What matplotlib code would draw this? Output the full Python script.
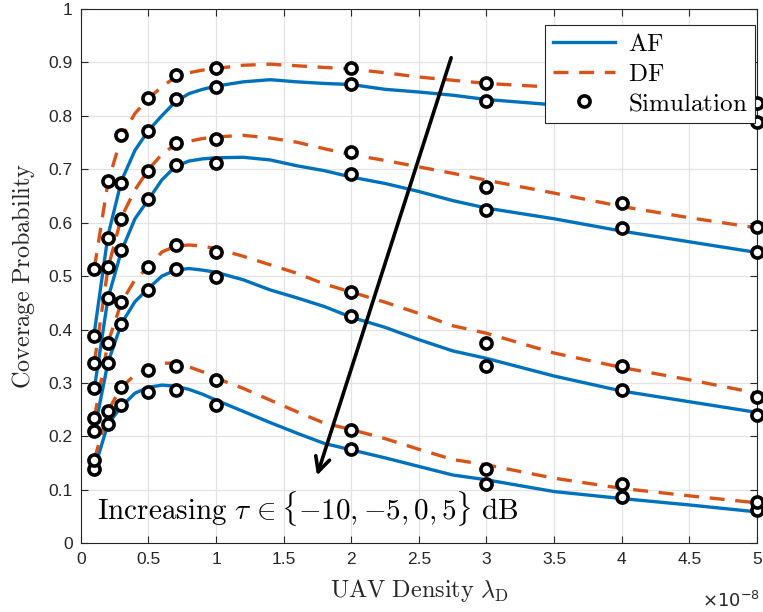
import matplotlib
matplotlib.use("Agg")
import matplotlib.pyplot as plt

plt.rcParams["mathtext.fontset"] = "cm"
plt.rcParams["font.family"] = ["Liberation Sans", "DejaVu Sans"]

BLUE = "#0072BD"
ORANGE = "#D95319"

# analytical curves (UAV density in units of 1e-8)
x_ana = [0.1, 0.2, 0.3, 0.4, 0.5, 0.6, 0.7, 0.8, 0.9, 1.0, 1.2, 1.4, 1.6, 1.8,
         2.0, 2.25, 2.5, 2.75, 3.0, 3.5, 4.0, 4.5, 5.0]
af_m10 = [0.395, 0.575, 0.678, 0.735, 0.772, 0.800, 0.826, 0.841, 0.849, 0.855, 0.863, 0.867,
          0.863, 0.860, 0.858, 0.849, 0.844, 0.838, 0.830, 0.820, 0.810, 0.799, 0.787]
df_m10 = [0.515, 0.675, 0.760, 0.804, 0.832, 0.854, 0.872, 0.880, 0.885, 0.888, 0.894, 0.896,
          0.893, 0.890, 0.887, 0.880, 0.872, 0.866, 0.860, 0.853, 0.843, 0.833, 0.822]
af_m5 = [0.290, 0.458, 0.547, 0.607, 0.643, 0.680, 0.705, 0.715, 0.719, 0.721, 0.722, 0.717,
         0.706, 0.697, 0.685, 0.673, 0.658, 0.641, 0.627, 0.607, 0.584, 0.564, 0.544]
df_m5 = [0.338, 0.514, 0.610, 0.661, 0.699, 0.728, 0.746, 0.752, 0.757, 0.760, 0.763, 0.758,
         0.750, 0.738, 0.727, 0.716, 0.704, 0.692, 0.679, 0.655, 0.630, 0.609, 0.590]
af_0 = [0.211, 0.338, 0.411, 0.452, 0.477, 0.500, 0.511, 0.514, 0.511, 0.507, 0.493, 0.474,
        0.459, 0.443, 0.423, 0.404, 0.381, 0.360, 0.346, 0.313, 0.285, 0.265, 0.245]
df_0 = [0.235, 0.375, 0.451, 0.493, 0.517, 0.545, 0.556, 0.558, 0.556, 0.551, 0.537, 0.521,
        0.505, 0.485, 0.470, 0.451, 0.430, 0.407, 0.393, 0.356, 0.329, 0.306, 0.281]
af_5 = [0.140, 0.223, 0.256, 0.281, 0.292, 0.296, 0.294, 0.288, 0.279, 0.268, 0.247, 0.226,
        0.206, 0.187, 0.175, 0.160, 0.144, 0.128, 0.119, 0.097, 0.084, 0.072, 0.059]
df_5 = [0.157, 0.248, 0.292, 0.315, 0.327, 0.337, 0.337, 0.330, 0.321, 0.309, 0.290, 0.268,
        0.246, 0.225, 0.213, 0.196, 0.176, 0.157, 0.147, 0.122, 0.103, 0.089, 0.076]

# simulation points
x_sim = [0.1, 0.2, 0.3, 0.5, 0.7, 1, 2, 3, 4, 5]
sim_df_m10 = [0.514, 0.678, 0.764, 0.833, 0.876, 0.889, 0.888, 0.860, 0.842, 0.824]
sim_af_m10 = [0.388, 0.572, 0.673, 0.772, 0.830, 0.853, 0.859, 0.828, 0.810, 0.788]
sim_df_m5 = [0.338, 0.516, 0.606, 0.697, 0.749, 0.757, 0.732, 0.667, 0.637, 0.592]
sim_af_m5 = [0.291, 0.458, 0.548, 0.644, 0.707, 0.712, 0.691, 0.623, 0.590, 0.544]
sim_df_0 = [0.235, 0.375, 0.451, 0.516, 0.558, 0.545, 0.471, 0.374, 0.331, 0.274]
sim_af_0 = [0.211, 0.338, 0.411, 0.473, 0.514, 0.498, 0.426, 0.331, 0.287, 0.240]
sim_df_5 = [0.156, 0.248, 0.293, 0.325, 0.331, 0.305, 0.213, 0.139, 0.111, 0.078]
sim_af_5 = [0.139, 0.223, 0.259, 0.283, 0.287, 0.259, 0.176, 0.111, 0.087, 0.063]

x_ticks = [0, 0.5, 1, 1.5, 2, 2.5, 3, 3.5, 4, 4.5, 5]
x_tick_labels = ["0", "0.5", "1", "1.5", "2", "2.5", "3", "3.5", "4", "4.5", "5"]
y_ticks = [0, 0.1, 0.2, 0.3, 0.4, 0.5, 0.6, 0.7, 0.8, 0.9, 1]
y_tick_labels = ["0", "0.1", "0.2", "0.3", "0.4", "0.5", "0.6", "0.7", "0.8", "0.9", "1"]

fig = plt.figure(figsize=(7.63, 6.12), dpi=100)
ax = fig.add_axes([0.106, 0.112, 0.886, 0.874])

af_curves = [af_m10, af_m5, af_0, af_5]
df_curves = [df_m10, df_m5, df_0, df_5]
sims = [sim_af_m10, sim_df_m10, sim_af_m5, sim_df_m5, sim_af_0, sim_df_0, sim_af_5, sim_df_5]

for i, (a, d) in enumerate(zip(af_curves, df_curves)):
    ax.plot(x_ana, a, color=BLUE, lw=2.4, label=r"$\mathrm{AF}$" if i == 0 else None, zorder=3)
    ax.plot(x_ana, d, color=ORANGE, lw=2.4, ls=(0, (4.5, 3.2)),
            label=r"$\mathrm{DF}$" if i == 0 else None, zorder=3)
for i, s in enumerate(sims):
    ax.plot(x_sim, s, ls="none", marker="o", ms=8, mew=2.6, mec="black", mfc="white",
            clip_on=False, zorder=5, label=r"$\mathrm{Simulation}$" if i == 0 else None)

ax.set_xlim(0, 5)
ax.set_ylim(0, 1)
ax.set_xticks(x_ticks)
ax.set_xticklabels(x_tick_labels)
ax.set_yticks(y_ticks)
ax.set_yticklabels(y_tick_labels)
ax.tick_params(direction="in", top=True, right=True, labelsize=12.5, length=5,
               width=0.8, colors="#262626", pad=6)
ax.grid(True, color="#E3E3E3", lw=0.9)
ax.set_axisbelow(True)
for sp in ax.spines.values():
    sp.set_color("#262626")
    sp.set_linewidth(0.8)

ax.set_xlabel(r"$\mathrm{UAV\ Density}\ \lambda_{\mathrm{D}}$", fontsize=17.5, color="#262626",
              labelpad=7)
ax.set_ylabel(r"$\mathrm{Coverage\ Probability}$", fontsize=17.5, color="#262626", labelpad=8)
fig.text(0.958, 0.008, r"$\times10^{-8}$", fontsize=13, color="#262626", ha="center",
         math_fontfamily="dejavusans")

ax.annotate("", xy=(1.74, 0.122), xytext=(2.745, 0.913),
            arrowprops=dict(arrowstyle="->", lw=2.6, color="black", mutation_scale=26),
            zorder=6)
ax.text(0.12, 0.066, r"$\mathrm{Increasing}\ \tau\, \in \{-10,{-}5,0,5\}\ \mathrm{dB}$",
        fontsize=21, va="center", ha="left", zorder=6)

leg = ax.legend(loc="upper right", bbox_to_anchor=(0.997, 0.97), fontsize=18,
                handlelength=2.5, borderpad=0.3, labelspacing=0.22, handletextpad=0.5,
                borderaxespad=0, fancybox=False, framealpha=1, edgecolor="#262626")
leg.get_frame().set_linewidth(0.8)
leg.set_zorder(10)

fig.savefig("out.png", dpi=100)
